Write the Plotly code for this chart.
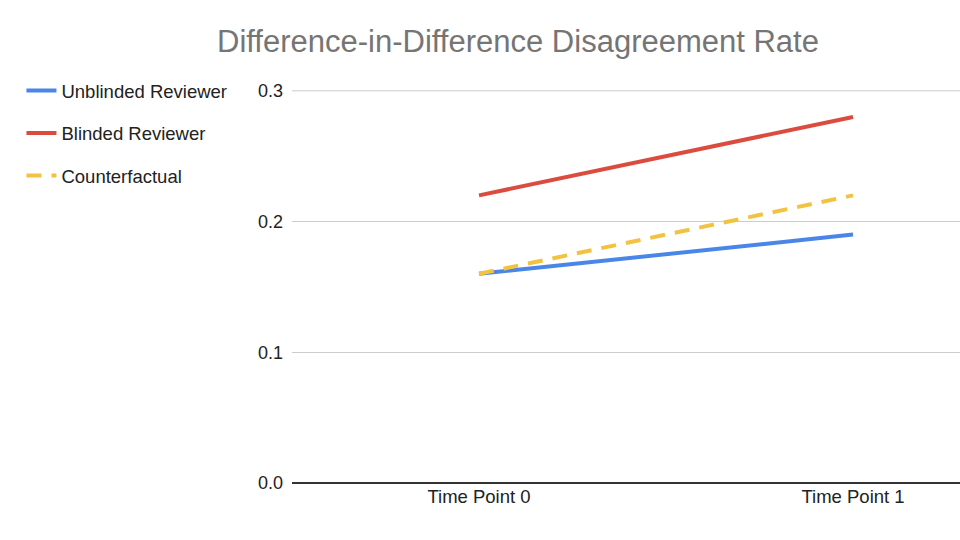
import plotly.graph_objects as go

categories = ["Time Point 0", "Time Point 1"]
unblinded = [0.16, 0.19]
blinded = [0.22, 0.28]
counterfactual = [0.16, 0.22]
y_ticks = [0.0, 0.1, 0.2, 0.3]
y_tick_labels = ["0.0", "0.1", "0.2", "0.3"]

FONT = "Liberation Sans, Arial, sans-serif"

fig = go.Figure()
fig.add_trace(go.Scatter(x=categories, y=unblinded, mode="lines", name="Unblinded Reviewer",
                         line=dict(color="#4A86E8", width=4), legendgroup="a"))
fig.add_trace(go.Scatter(x=categories, y=blinded, mode="lines", name="Blinded Reviewer",
                         line=dict(color="#DB4C3F", width=4), legendgroup="b"))
fig.add_trace(go.Scatter(x=categories, y=counterfactual, mode="lines", name="Counterfactual",
                         line=dict(color="#F2C240", width=4, dash="15px,10px"), legendgroup="c"))

# top gridline (at the edge of the range)
fig.add_shape(type="line", xref="paper", x0=0, x1=1, yref="y", y0=y_ticks[-1], y1=y_ticks[-1],
              line=dict(color="#cccccc", width=1), layer="below")

fig.update_layout(
    width=960, height=540,
    margin=dict(l=292, r=0, t=90, b=57, autoexpand=False),
    paper_bgcolor="white", plot_bgcolor="white",
    font=dict(family=FONT, color="#444444", size=18),
    title=dict(text="Difference-in-Difference Disagreement Rate",
               font=dict(family=FONT, size=31, color="#757575"),
               x=518/960, xanchor="center", xref="container",
               y=1-41/540, yanchor="middle", yref="container"),
    legend=dict(x=-0.405, xanchor="left", y=1.046, yanchor="top",
                font=dict(family=FONT, size=18.5, color="#222222"),
                tracegroupgap=15.5, bgcolor="rgba(0,0,0,0)"),
    showlegend=True,
)
fig.update_xaxes(type="category", range=[-0.5, 1.286], showgrid=False, zeroline=False,
                 showline=False, ticks="", tickfont=dict(size=18.5, color="#222222"))
fig.update_yaxes(range=[0, 0.3006], tickvals=y_ticks, ticktext=y_tick_labels,
                 showgrid=True, gridcolor="#cccccc", gridwidth=1, zeroline=True,
                 zerolinecolor="#333333", zerolinewidth=2, showline=False,
                 ticks="", ticklabelstandoff=8, tickfont=dict(size=18, color="#222222"))

fig.write_html("out.html",
               config={"displayModeBar": False},
               post_script="document.body.style.margin='0';document.body.style.overflow='hidden';")
